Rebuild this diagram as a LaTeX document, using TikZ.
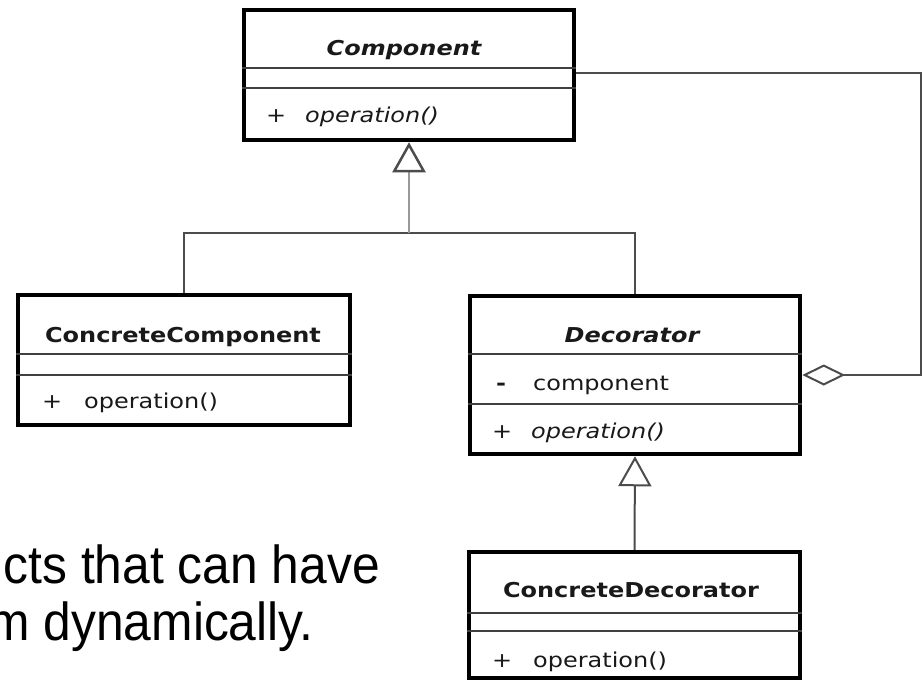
\documentclass[tikz,border=0pt]{standalone}
\usepackage{fontspec}
\usetikzlibrary{arrows.meta}
\newfontfamily\umlfont[FakeStretch=1.17]{DejaVu Sans}
\newfontfamily\slidefont[FakeStretch=0.93]{Liberation Sans}
\begin{document}
\begin{tikzpicture}[x=1pt,y=-1pt,
  classbox/.style={draw=black, line width=4.5pt, fill=white, inner sep=0pt},
  divider/.style={draw=black!75, line width=2pt},
  umltext/.style={font=\umlfont\fontsize{20.5}{24}\selectfont, inner sep=0pt, text=black!90},
  classname/.style={umltext, font=\umlfont\fontsize{20.5}{24}\selectfont\bfseries, anchor=base},
  member/.style={umltext, anchor=base west},
  connector/.style={draw=black!70, line width=2pt},
  generalization/.style={connector, -{Triangle[open, length=30pt, width=33pt, color=black!70]}},
  aggregation/.style={connector, -{Diamond[open, length=43pt, width=21pt, color=black!70]}},
  slidetext/.style={font=\slidefont\fontsize{53.5}{57}\selectfont, inner sep=0pt, anchor=base east}
]
\useasboundingbox[fill=white] (0,0) rectangle (924,681);

% ---- Component (abstract) ----
\node[classbox, minimum width=330pt, minimum height=130pt] (component) at (409,75) {};
\draw[divider] (component.west |- 0,68) -- (component.east |- 0,68);
\draw[divider] (component.west |- 0,88) -- (component.east |- 0,88);
\node[classname, font=\umlfont\fontsize{20.5}{24}\selectfont\bfseries\itshape] (componentname) at (404,55) {Component};
\node[member] (componentplus) at (266,122) {+};
\node[member, font=\umlfont\fontsize{20.5}{24}\selectfont\itshape] (componentop) at (305,122) {operation()};

% ---- ConcreteComponent ----
\node[classbox, minimum width=332pt, minimum height=130pt] (concretecomponent) at (184,360) {};
\draw[divider] (concretecomponent.west |- 0,354) -- (concretecomponent.east |- 0,354);
\draw[divider] (concretecomponent.west |- 0,375) -- (concretecomponent.east |- 0,375);
\node[classname] (ccname) at (183,342) {ConcreteComponent};
\node[member] (ccplus) at (42,408) {+};
\node[member] (ccop) at (84,408) {operation()};

% ---- Decorator (abstract) ----
\node[classbox, minimum width=330pt, minimum height=158pt] (decorator) at (635,375) {};
\draw[divider] (decorator.west |- 0,354) -- (decorator.east |- 0,354);
\draw[divider] (decorator.west |- 0,404) -- (decorator.east |- 0,404);
\node[classname, font=\umlfont\fontsize{20.5}{24}\selectfont\bfseries\itshape] (decname) at (632,342) {Decorator};
\node[member, font=\umlfont\fontsize{20.5}{24}\selectfont\bfseries] (decminus) at (496,390) {-};
\node[member] (decfield) at (533,390) {component};
\node[member] (decplus) at (492,438) {+};
\node[member, font=\umlfont\fontsize{20.5}{24}\selectfont\itshape] (decop) at (531,438) {operation()};

% ---- ConcreteDecorator ----
\node[classbox, minimum width=331pt, minimum height=126pt] (concretedecorator) at (634.5,615) {};
\draw[divider] (concretedecorator.west |- 0,613) -- (concretedecorator.east |- 0,613);
\draw[divider] (concretedecorator.west |- 0,631) -- (concretedecorator.east |- 0,631);
\node[classname] (cdname) at (631,597) {ConcreteDecorator};
\node[member] (cdplus) at (492,667) {+};
\node[member] (cdop) at (533,667) {operation()};

% ---- relations ----
\coordinate (bus) at (409,233);
\coordinate (aggtop) at (921,73);
\draw[connector] (concretecomponent.north) |- (bus) -| (decorator.north);
\draw[generalization, draw=black!40, line width=2.5pt] (bus) -- (component.south);
\draw[generalization] (concretedecorator.north) -- (decorator.south);
\draw[aggregation] ([yshift=2pt]component.east) -- (aggtop) |- (decorator.east);

% ---- slide text ----
\node[slidetext] (line1) at (380,583) {cts that can have};
\node[slidetext] (line2) at (314,640) {m dynamically.};
\end{tikzpicture}
\end{document}
